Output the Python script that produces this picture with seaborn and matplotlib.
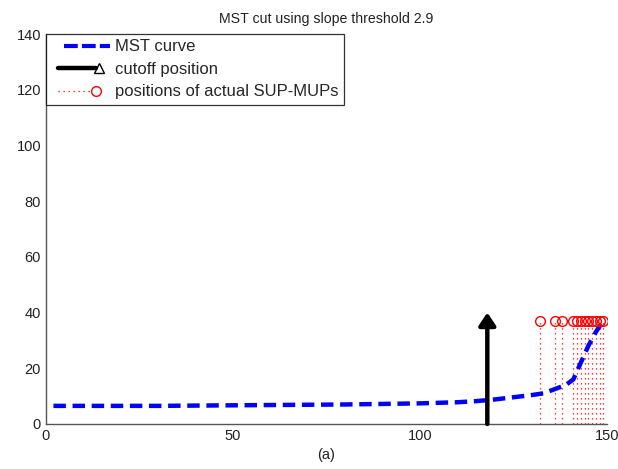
import numpy as np
import pandas as pd
import matplotlib
matplotlib.use("Agg")
import matplotlib.pyplot as plt
import seaborn as sns
from matplotlib.lines import Line2D
from matplotlib.legend_handler import HandlerBase

# ---- data ----
mst_x = [2, 10, 20, 30, 40, 50, 60, 70, 80, 90, 100, 110, 115, 120, 125, 130, 133, 136, 139, 141, 143, 145, 147, 149]
mst_y = [6.5, 6.5, 6.5, 6.5, 6.6, 6.7, 6.8, 6.9, 7.0, 7.2, 7.4, 7.8, 8.2, 8.8, 9.6, 10.4, 11.0, 12.5, 14.0, 16.0, 22.0, 28.0, 33.0, 37.0]
cutoff_x = 118
cutoff_height = 40
sup_x = [132, 136, 138, 141, 142, 143, 144, 145, 146, 147, 148, 149]
sup_y = [37] * len(sup_x)
title = "MST cut using slope threshold 2.9"
xlabel = "(a)"
labels = ["MST curve", "cutoff position", "positions of actual SUP-MUPs"]
xticks = [0, 50, 100, 150]
yticks = [0, 20, 40, 60, 80, 100, 120, 140]

sns.set_style("white")
plt.rcParams["font.family"] = ["Liberation Sans", "DejaVu Sans"]
plt.rcParams["font.size"] = 10

fig = plt.figure(figsize=(6.18, 4.69), dpi=100)
ax = fig.add_axes([0.0744, 0.096, 0.9078, 0.8315])

df = pd.DataFrame({"x": mst_x, "y": mst_y})
sns.lineplot(data=df, x="x", y="y", ax=ax, color="#0000ff", lw=3.2,
             dashes=False, zorder=3)
ax.lines[0].set_dashes((2.8, 1.5))

# actual SUP-MUP positions: dotted stems with open circles
for xv, yv in zip(sup_x, sup_y):
    ax.plot([xv, xv], [0, yv], color="red", lw=0.9, ls=(0, (1, 3)), zorder=2)
ax.plot(sup_x, sup_y, ls="none", marker="o", ms=7, mfc="none", mec="red", mew=1, zorder=4)

# cutoff arrow
ax.annotate("", xy=(cutoff_x, cutoff_height), xytext=(cutoff_x, 0),
            arrowprops=dict(arrowstyle="-|>,head_length=0.75,head_width=0.5",
                            color="black", lw=3.2, shrinkA=0, shrinkB=0),
            zorder=5)

ax.set_xlim(0, 150)
ax.set_ylim(0, 140)
ax.set_xticks(xticks)
ax.set_yticks(yticks)
ax.set_title(title, fontsize=10.2, pad=8, color="#222222")
ax.set_xlabel(xlabel, fontsize=10.5, labelpad=4, color="#222222")
ax.set_ylabel("")
ax.tick_params(direction="in", length=5, width=0.8, colors="#555555", labelcolor="#222222", labelsize=10.5)
for s in ["top", "right"]:
    ax.spines[s].set_visible(False)
for s in ["left", "bottom"]:
    ax.spines[s].set_color("#555555")
    ax.spines[s].set_linewidth(1.0)


class LegendGlyph(HandlerBase):
    def __init__(self, color, lw, ls, start, end, marker=None, ms=0, mpos=0.0):
        super().__init__()
        self.c, self.lw, self.ls = color, lw, ls
        self.start, self.end = start, end
        self.m, self.ms, self.mpos = marker, ms, mpos

    def create_artists(self, legend, orig_handle, xdescent, ydescent, width, height, fontsize, trans):
        y = height / 2 - ydescent
        x0 = -xdescent
        ln = Line2D([x0 + width * self.start, x0 + width * self.end], [y, y],
                    color=self.c, lw=self.lw, transform=trans)
        if isinstance(self.ls, tuple) and isinstance(self.ls[1], tuple):
            ln.set_linestyle(self.ls)
        elif isinstance(self.ls, tuple):
            ln.set_dashes(self.ls)
        else:
            ln.set_linestyle(self.ls)
        arts = [ln]
        if self.m:
            mk = Line2D([x0 + width * self.mpos], [y], marker=self.m, ms=self.ms, mfc="none",
                        mec=self.c, mew=1, ls="none", transform=trans)
            arts.append(mk)
        return arts


h1 = Line2D([], [], color="#0000ff")
h2 = Line2D([], [], color="black")
h3 = Line2D([], [], color="red")
leg = ax.legend([h1, h2, h3], labels, loc="upper left", bbox_to_anchor=(0, 1),
                borderaxespad=0, frameon=True, fancybox=False, fontsize=12,
                handlelength=3.85, handletextpad=0.0, labelspacing=0.45,
                borderpad=0.32,
                handler_map={h1: LegendGlyph("#0000ff", 3.0, (3.3, 1.0), 0.19, 0.92),
                             h2: LegendGlyph("black", 3.2, "-", 0.11, 0.69, "^", 7, 0.75),
                             h3: LegendGlyph("red", 0.9, (0, (1, 3)), 0.11, 0.61, "o", 7, 0.69)})
leg.get_frame().set_edgecolor("black")
leg.get_frame().set_linewidth(0.9)

fig.savefig("out.png", dpi=100)
